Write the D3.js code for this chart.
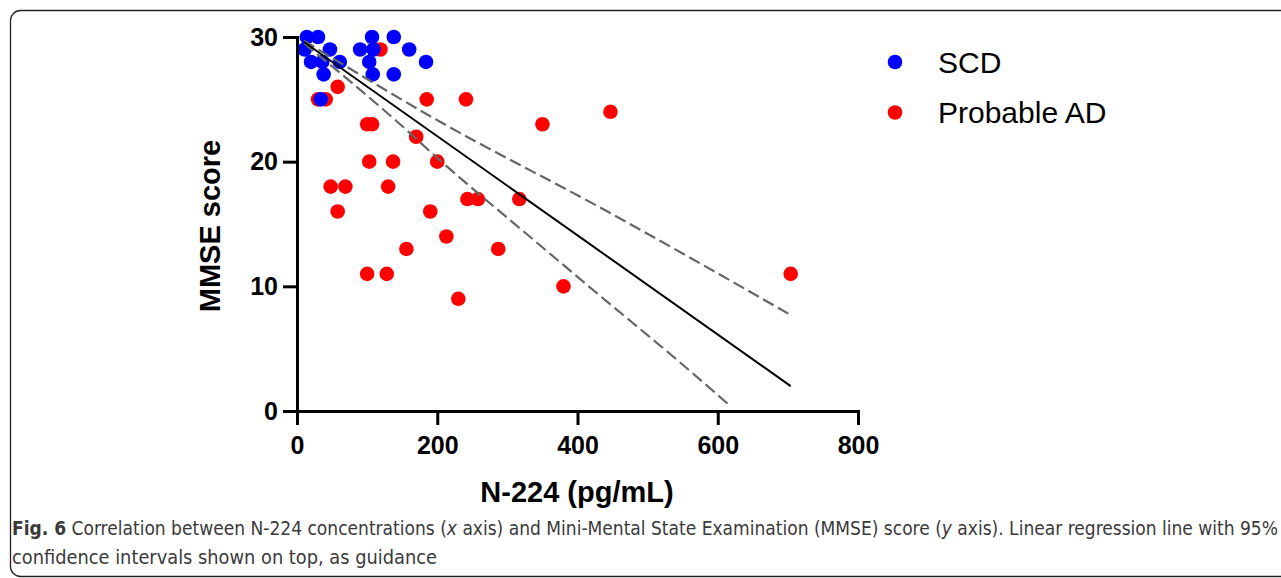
<!DOCTYPE html>
<html>
<head>
<meta charset="utf-8">
<script src="https://cdn.jsdelivr.net/npm/d3@7"></script>
<style>
  html, body { margin: 0; padding: 0; background: #fff; }
  svg { display: block; }
</style>
</head>
<body>
<svg id="chart" width="1281" height="578"></svg>
<script>
// ---- data ----
const scdX = [14, 30, 107, 138, 11, 47, 90, 109, 160, 20, 36, 61, 103, 184, 38, 108, 138, 34];
const scdY = [30, 30, 30, 30, 29, 29, 29, 29, 29, 28, 28, 28, 28, 28, 27, 27, 27, 25];

const adX = [30, 41, 58, 119, 185, 241, 100, 107, 350, 447, 170, 103, 137, 200, 48, 69, 130, 243, 258, 317, 58, 190, 213, 156, 287, 100, 128, 380, 230, 704];
const adY = [25, 25, 26, 29, 25, 25, 23, 23, 23, 24, 22, 20, 20, 20, 18, 18, 18, 17, 17, 17, 16, 16, 14, 13, 13, 11, 11, 10, 9, 11];

// regression line and 95% CI bands
const fitX = [10, 704];
const fitY = [29.6, 2.0];
const upperX = [10, 204, 433, 704];
const upperY = [29.7, 23.2, 16.3, 7.7];
const lowerX = [10, 147, 204, 338, 433, 542, 616];
const lowerY = [29.5, 23.0, 20.1, 13.7, 9.2, 4.1, 0.5];

const xTicks = [0, 200, 400, 600, 800];
const yTicks = [0, 10, 20, 30];
const seriesNames = ["SCD", "Probable AD"];
const seriesColors = ["#0000ff", "#ff0000"];

// ---- drawing ----
const svg = d3.select("#chart");
const x = d3.scaleLinear().domain([0, 800]).range([297, 858]);
const y = d3.scaleLinear().domain([0, 30]).range([411, 37]);

// frame
svg.append("rect").attr("x", 10.5).attr("y", 10.5).attr("width", 1290).attr("height", 566)
  .attr("rx", 10).attr("fill", "none").attr("stroke", "#222").attr("stroke-width", 1.3);

const fontBold = "'Liberation Sans', Arial, Helvetica, sans-serif";

// points: red first, blue on top
const pts = svg.append("g");
pts.selectAll("circle.ad").data(d3.range(adX.length)).join("circle")
  .attr("class", "ad").attr("cx", i => x(adX[i])).attr("cy", i => y(adY[i])).attr("r", 7.3)
  .attr("fill", seriesColors[1]);
pts.selectAll("circle.scd").data(d3.range(scdX.length)).join("circle")
  .attr("class", "scd").attr("cx", i => x(scdX[i])).attr("cy", i => y(scdY[i])).attr("r", 7.3)
  .attr("fill", seriesColors[0]);

// lines
const line = d3.line().x(d => x(d[0])).y(d => y(d[1]));
const zip = (a, b) => a.map((v, i) => [v, b[i]]);
svg.append("path").attr("d", line.curve(d3.curveMonotoneX)(zip(upperX, upperY)))
  .attr("fill", "none").attr("stroke", "#666").attr("stroke-width", 2.2).attr("stroke-dasharray", "12,5");
svg.append("path").attr("d", line.curve(d3.curveMonotoneX)(zip(lowerX, lowerY)))
  .attr("fill", "none").attr("stroke", "#666").attr("stroke-width", 2.2).attr("stroke-dasharray", "12,5");
svg.append("path").attr("d", line.curve(d3.curveLinear)(zip(fitX, fitY)))
  .attr("fill", "none").attr("stroke", "#000").attr("stroke-width", 2);

// axes
const yAxis = svg.append("g").attr("transform", "translate(297,0)")
  .call(d3.axisLeft(y).tickValues(yTicks).tickSize(14).tickSizeOuter(0).tickPadding(5).tickFormat(d3.format("d")));
const xAxis = svg.append("g").attr("transform", "translate(0,411)")
  .call(d3.axisBottom(x).tickValues(xTicks).tickSize(14).tickSizeOuter(0).tickPadding(11).tickFormat(d3.format("d")));
[yAxis, xAxis].forEach(g => {
  g.select(".domain").attr("stroke", "#000").attr("stroke-width", 3).attr("stroke-linecap", "square");
  g.selectAll(".tick line").attr("stroke", "#000").attr("stroke-width", 3);
  g.selectAll(".tick text").attr("fill", "#000").attr("font-family", fontBold)
    .attr("font-weight", "bold").attr("font-size", 25);
});

// axis titles
svg.append("text").attr("x", 577).attr("y", 502).attr("text-anchor", "middle")
  .attr("font-family", fontBold).attr("font-weight", "bold").attr("font-size", 29).attr("fill", "#000")
  .text("N-224 (pg/mL)");
svg.append("text").attr("transform", "translate(220,226) rotate(-90)").attr("text-anchor", "middle")
  .attr("font-family", fontBold).attr("font-weight", "bold").attr("font-size", 29).attr("fill", "#000")
  .text("MMSE score");

// legend
const leg = svg.append("g");
seriesNames.forEach((name, i) => {
  leg.append("circle").attr("cx", 895).attr("cy", 62 + i * 50.5).attr("r", 7.3).attr("fill", seriesColors[i]);
  leg.append("text").attr("x", 938).attr("y", 72.5 + i * 50.5)
    .attr("font-family", fontBold).attr("font-size", 30).attr("fill", "#000").text(name);
});

// caption
const capFont = "'Liberation Sans Narrow', 'DejaVu Sans Condensed', 'Roboto Condensed', 'Open Sans', sans-serif";
const cap1 = svg.append("text").attr("x", 12).attr("y", 535).attr("font-family", capFont)
  .attr("font-size", 19).attr("fill", "#3a3a3a")
  .attr("textLength", 1266).attr("lengthAdjust", "spacingAndGlyphs");
cap1.append("tspan").attr("font-weight", "bold").text("Fig. 6");
cap1.append("tspan").text(" Correlation between N-224 concentrations (");
cap1.append("tspan").attr("font-style", "italic").text("x");
cap1.append("tspan").text(" axis) and Mini-Mental State Examination (MMSE) score (");
cap1.append("tspan").attr("font-style", "italic").text("y");
cap1.append("tspan").text(" axis). Linear regression line with 95%");
svg.append("text").attr("x", 12).attr("y", 564).attr("font-family", capFont)
  .attr("font-size", 19).attr("fill", "#3a3a3a")
  .attr("textLength", 425).attr("lengthAdjust", "spacingAndGlyphs")
  .text("confidence intervals shown on top, as guidance");
</script>
</body>
</html>
